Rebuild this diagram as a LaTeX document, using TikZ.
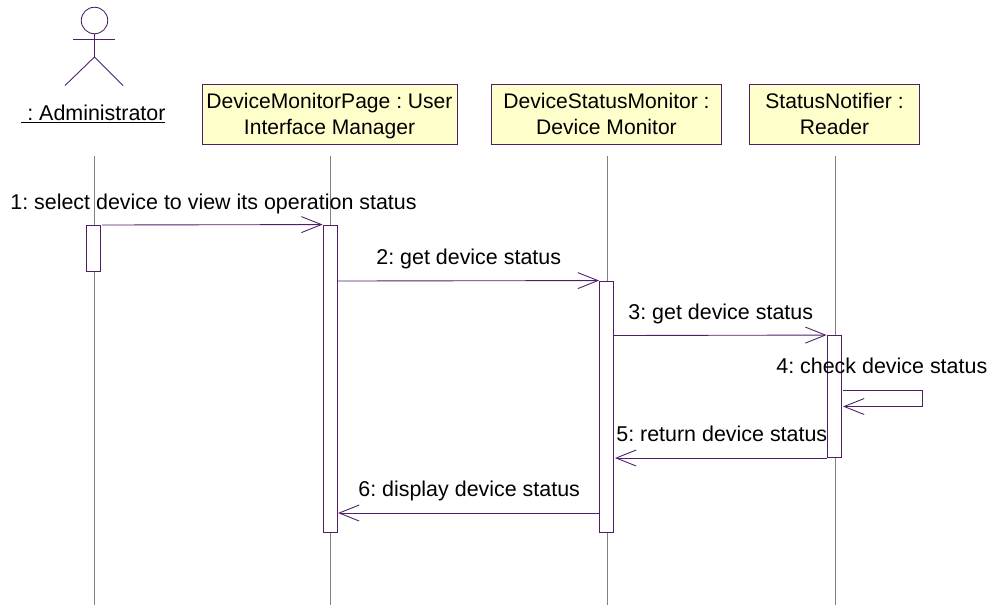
\documentclass[tikz,border=0pt]{standalone}
\usepackage{fontspec}
\setmainfont{Liberation Sans}
\usetikzlibrary{arrows.meta}
\definecolor{umlline}{HTML}{4F1F66}
\definecolor{umlfill}{HTML}{FFFFCC}
\frenchspacing
\tikzset{
  lifeline/.style = {draw = gray, line width = 0.5pt},
  headbox/.style = {draw = umlline, fill = umlfill, line width = 0.5pt, inner sep = 0pt, align = center, text depth = 0pt, minimum height = 60*0.02cm},
  activation/.style = {draw = umlline, fill = white, line width = 0.5pt, inner sep = 0pt, minimum width = 14*0.02cm},
  message/.style = {draw = umlline, line width = 0.5pt, -{Straight Barb[length = 20*0.02cm, width = 16*0.02cm, line width = 0.5pt]}},
  stickman/.style = {draw = umlline, line width = 0.5pt},
  msglabel/.style = {inner sep = 0pt, anchor = base west, font = \fontsize{12.2}{14.7}\selectfont},
}
\begin{document}
\begin{tikzpicture} [x = 0.02cm, y = -0.02cm, font = \fontsize{12}{14.7}\selectfont]
\useasboundingbox (0, 0) rectangle (993, 605);
% heads
\node[headbox, minimum width = 255*0.02cm] (pageHead) at (329.5, 114) {DeviceMonitorPage : User\\Interface Manager};
\node[headbox, minimum width = 230*0.02cm] (monitorHead) at (606.5, 114) {DeviceStatusMonitor :\\Device Monitor};
\node[headbox, minimum width = 170*0.02cm] (notifierHead) at (834.5, 114) {StatusNotifier :\\Reader};
% actor
\node[stickman, circle, minimum size = 26.5*0.02cm, inner sep = 0pt] (adminFace) at (94.5, 20.5) {};
\coordinate (adminHip) at (94.5, 57);
\coordinate (adminHand) at (73, 39.5);
\coordinate (adminOtherHand) at (115, 39.5);
\coordinate (adminFoot) at (65, 85.5);
\coordinate (adminOtherFoot) at (123, 85.5);
\draw[stickman] (adminFace.south) -- (adminHip);
\draw[stickman] (adminHand) -- (adminOtherHand);
\draw[stickman] (adminFoot) -- (adminHip) -- (adminOtherFoot);
\node[msglabel] (adminName) at (21, 120) {\underline{\ : Administrator}};
% lifelines
\coordinate (adminTop) at (94.3, 156);
\coordinate (adminEnd) at (94.3, 605);
\coordinate (pageTop) at (330.5, 156);
\coordinate (pageEnd) at (330.5, 605);
\coordinate (monitorTop) at (607, 156);
\coordinate (monitorEnd) at (607, 605);
\coordinate (notifierTop) at (835, 156);
\coordinate (notifierEnd) at (835, 605);
\draw[lifeline] (adminTop) -- (adminEnd);
\draw[lifeline] (pageTop) -- (pageEnd);
\draw[lifeline] (monitorTop) -- (monitorEnd);
\draw[lifeline] (notifierTop) -- (notifierEnd);
% activations
\node[activation, minimum height = 46*0.02cm] (adminBar) at (93.3, 248) {};
\node[activation, minimum height = 307*0.02cm] (pageBar) at (330, 378.5) {};
\node[activation, minimum height = 251*0.02cm] (monitorBar) at (606.5, 406.5) {};
\node[activation, minimum height = 122*0.02cm] (notifierBar) at (834, 396.5) {};
% messages
\coordinate (selectStart) at (102, 225);
\coordinate (getStart) at (338, 281);
\coordinate (askStart) at (614, 335.5);
\coordinate (selfStart) at (843, 390.5);
\coordinate (selfOut) at (922, 390.5);
\coordinate (selfBack) at (922, 406.5);
\coordinate (selfEnd) at (843, 406.5);
\coordinate (returnStart) at (827, 458);
\coordinate (returnEnd) at (615, 458);
\coordinate (displayStart) at (600, 513);
\coordinate (displayEnd) at (338, 513);
\draw[message] (selectStart) -- (pageBar.north west);
\draw[message] (getStart) -- (monitorBar.north west);
\draw[message] (askStart) -- (notifierBar.north west);
\draw[message] (selfStart) -- (selfOut) -- (selfBack) -- (selfEnd);
\draw[message] (returnStart) -- (returnEnd);
\draw[message] (displayStart) -- (displayEnd);
% labels
\node[msglabel] (selectText) at (10, 209) {1: select device to view its operation status};
\node[msglabel] (getText) at (376, 264) {2: get device status};
\node[msglabel] (askText) at (628, 319) {3: get device status};
\node[msglabel] (checkText) at (776, 373.5) {4: check device status};
\node[msglabel] (returnText) at (616, 441.5) {5: return device status};
\node[msglabel] (displayText) at (358, 496.5) {6: display device status};
\end{tikzpicture}
\end{document}
